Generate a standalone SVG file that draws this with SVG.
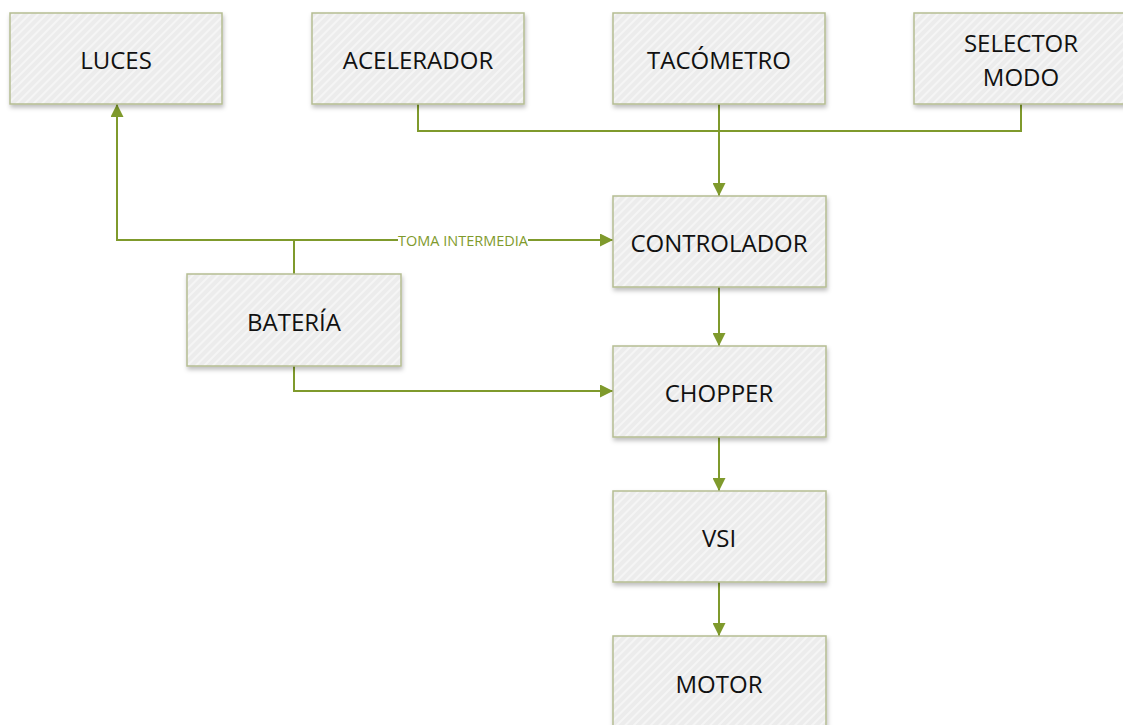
<svg xmlns="http://www.w3.org/2000/svg" width="1123" height="725" viewBox="0 0 1123 725">
<style>
.box{fill:url(#hatch);stroke:#b5bd92;stroke-width:1.5;filter:url(#sh)}
.t{font-family:"Open Sans","Liberation Sans",sans-serif;font-size:24px;fill:#111;text-anchor:middle;dominant-baseline:central}
.c{fill:none;stroke:#7f9a2c;stroke-width:2}
.lbl{font-family:"Open Sans","Liberation Sans",sans-serif;font-size:14px;fill:#7f9a2c;text-anchor:middle;dominant-baseline:central}
</style>
<defs>
<pattern id="hatch" width="6" height="6" patternUnits="userSpaceOnUse" patternTransform="rotate(45)">
<rect width="6" height="6" fill="#ececec"/>
<rect width="2" height="6" fill="#f5f5f5"/>
</pattern>
<filter id="sh" x="-10%" y="-10%" width="130%" height="130%">
<feDropShadow dx="1" dy="3" stdDeviation="2" flood-color="#000" flood-opacity="0.25"/>
</filter>
<marker id="ah" viewBox="0 0 10 10" refX="10" refY="5" markerWidth="6.5" markerHeight="6.5" orient="auto" markerUnits="strokeWidth">
<path d="M0,0 L10,5 L0,10 z" fill="#7f9a2c"/>
</marker>
</defs>
<g id="connectors">
<path class="c" d="M418,104 V131 H1021 V104"/>
<path class="c" d="M719,104 V196" marker-end="url(#ah)"/>
<path class="c" d="M294,274 V240 H117 V104" marker-end="url(#ah)"/>
<path class="c" d="M294,240 H398 M528,240 H613" marker-end="url(#ah)"/>
<text class="lbl" x="463" y="240" textLength="130" lengthAdjust="spacingAndGlyphs">TOMA INTERMEDIA</text>
<path class="c" d="M294,366 V391 H613" marker-end="url(#ah)"/>
<path class="c" d="M719,287 V346" marker-end="url(#ah)"/>
<path class="c" d="M719,437 V491" marker-end="url(#ah)"/>
<path class="c" d="M719,582 V636" marker-end="url(#ah)"/>
</g>
<g id="luces"><rect class="box" x="10" y="13" width="212" height="91"/><text class="t" x="116" y="59">LUCES</text></g>
<g id="acelerador"><rect class="box" x="312" y="13" width="212" height="91"/><text class="t" x="418" y="59">ACELERADOR</text></g>
<g id="tacometro"><rect class="box" x="613" y="13" width="212" height="91"/><text class="t" x="719" y="59">TACÓMETRO</text></g>
<g id="selector"><rect class="box" x="914" y="13" width="214" height="91"/><text class="t" x="1021" y="42">SELECTOR</text><text class="t" x="1021" y="76">MODO</text></g>
<g id="controlador"><rect class="box" x="613" y="196" width="213" height="91"/><text class="t" x="719" y="242">CONTROLADOR</text></g>
<g id="bateria"><rect class="box" x="187" y="274" width="214" height="92"/><text class="t" x="294" y="321">BATERÍA</text></g>
<g id="chopper"><rect class="box" x="613" y="346" width="213" height="91"/><text class="t" x="719" y="392">CHOPPER</text></g>
<g id="vsi"><rect class="box" x="613" y="491" width="213" height="91"/><text class="t" x="719" y="537">VSI</text></g>
<g id="motor"><rect class="box" x="613" y="636" width="213" height="95"/><text class="t" x="719" y="683">MOTOR</text></g>
</svg>
